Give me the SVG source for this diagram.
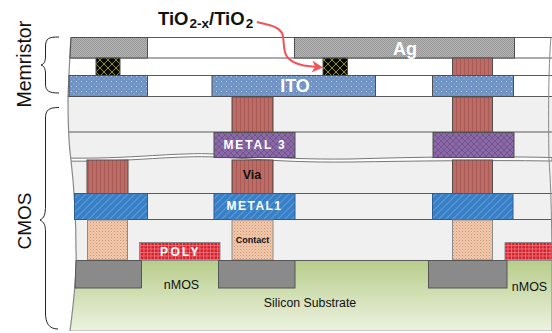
<svg xmlns="http://www.w3.org/2000/svg" width="552" height="333" viewBox="0 0 552 333">
<defs>
<linearGradient id="sub" x1="0" y1="0" x2="0" y2="1"><stop offset="0" stop-color="#b7cd8a"/><stop offset="1" stop-color="#eef3e2"/></linearGradient>
<pattern id="pAg" width="2" height="2" patternUnits="userSpaceOnUse"><rect width="2" height="2" fill="#b4b4b4"/><rect width="1" height="1" fill="#989898"/><rect x="1" y="1" width="1" height="1" fill="#989898"/></pattern>
<pattern id="pTi" width="8" height="8" patternUnits="userSpaceOnUse"><rect width="8" height="8" fill="#0b0b06"/><path d="M0 0L8 8M8 0L0 8" stroke="#8f8c3c" stroke-width="1"/></pattern>
<pattern id="pITO" width="5" height="5" patternUnits="userSpaceOnUse"><rect width="5" height="5" fill="#6e93c4"/><rect x="1" y="1" width="1" height="1" fill="#c3d4e8"/><rect x="3.500" y="3.500" width="1" height="1" fill="#a9c1de"/></pattern>
<pattern id="pVia" width="4" height="4" patternUnits="userSpaceOnUse"><rect width="4" height="4" fill="#bd6c65"/><rect width="1" height="4" fill="#a85a56"/></pattern>
<pattern id="pM3" width="6" height="6" patternUnits="userSpaceOnUse"><rect width="6" height="6" fill="#8a69a6"/><path d="M0 0L6 6M6 0L0 6" stroke="#725590" stroke-width="1"/></pattern>
<pattern id="pM1" width="7" height="7" patternUnits="userSpaceOnUse"><rect width="7" height="7" fill="#377fc7"/><path d="M-1 8L8 -1M-1 1L1 -1M6 8L8 6" stroke="#5f9ad6" stroke-width="1.200"/></pattern>
<pattern id="pCt" width="3" height="3" patternUnits="userSpaceOnUse"><rect width="3" height="3" fill="#f3c8aa"/><rect width="1" height="1" fill="#c9977a"/><rect x="1.500" y="1.500" width="1" height="1" fill="#d8a98c"/></pattern>
<pattern id="pPo" width="3.500" height="3.500" patternUnits="userSpaceOnUse"><rect width="3.500" height="3.500" fill="#d8202c"/><path d="M0 .5H3.500M.5 0V3.500" stroke="#ee7a80" stroke-width=".8"/></pattern>
<marker id="arr" markerWidth="13" markerHeight="13" refX="6" refY="6" orient="auto" markerUnits="userSpaceOnUse"><path d="M0 0L11 6L0 12L3 6Z" fill="#f0555c"/></marker>
<clipPath id="body"><path d="M71 37H552V331H70C74 300 77 270 76 250C76 220 75 195 71 160C68 140 68 110 68 96C69 75 70 50 71 37Z"/></clipPath>
</defs>
<style>
.l{stroke:#5a5a5a;stroke-width:1.200;fill:none}
.s{stroke:#4f4f4f;stroke-width:1}
.w{font-family:"Liberation Sans",Arial,sans-serif;font-weight:700;fill:#fff}
.k{font-family:"Liberation Sans",Arial,sans-serif;fill:#111}
.b{font-family:"Liberation Sans",Arial,sans-serif;font-weight:700;fill:#111}
</style>
<g id="stack-background" clip-path="url(#body)">
<rect x="60" y="37" width="500" height="60" fill="#fff"/>
<rect x="60" y="97" width="500" height="163" fill="#f0f0f0"/>
<rect x="60" y="260" width="500" height="72" fill="url(#sub)"/>
<path class="l" d="M60 37.500H552M60 58H552M60 75.500H552M60 96.500H552M60 132H552M60 193.500H552M60 219.500H552M60 260.500H552"/>
<path d="M60 158C120 159 150 155 185 154C230 152 265 160 350 159C420 157 480 156 552 157.500V161C480 160 420 161 350 162C265 163 230 155 185 157C150 158 120 162 60 161Z" fill="#fff" stroke="#777" stroke-width="1"/>
<path d="M60 331.500H552" stroke="#666" stroke-width="1.500"/>
</g>
<path d="M71 37C70 50 69 75 68 96C68 110 68 140 71 160C75 195 76 220 76 250C77 270 74 300 70 331" fill="none" stroke="#888" stroke-width="1.200"/>
<path d="M551 37C549 60 548 100 549 160C552 200 552 250 552 331" fill="none" stroke="#888" stroke-width="1"/>
<g id="ag"><path class="s" d="M71 37.500H147.500V58H70Z" fill="url(#pAg)"/><rect class="s" x="294.500" y="37.500" width="220" height="20.500" fill="url(#pAg)"/><text class="w" x="405" y="54.500" font-size="18" text-anchor="middle">Ag</text></g>
<g id="tio2"><rect class="s" x="96" y="58" width="24" height="17.500" fill="url(#pTi)"/><rect class="s" x="323" y="58" width="24.500" height="17.500" fill="url(#pTi)"/></g>
<g id="ito"><rect class="s" x="69" y="75.500" width="78.500" height="21" fill="url(#pITO)"/><rect class="s" x="212" y="75.500" width="163.500" height="21" fill="url(#pITO)"/><rect class="s" x="432.500" y="75.500" width="81" height="21" fill="url(#pITO)"/><text class="w" x="295" y="91.500" font-size="18" text-anchor="middle">ITO</text></g>
<g id="vias">
<rect class="s" x="452.500" y="58" width="40" height="17.500" fill="url(#pVia)"/>
<rect class="s" x="232" y="97" width="41" height="35" fill="url(#pVia)"/>
<rect class="s" x="452.500" y="97" width="40" height="35" fill="url(#pVia)"/>
<rect class="s" x="87" y="160" width="41" height="33.500" fill="url(#pVia)"/>
<rect class="s" x="232" y="160" width="41" height="33.500" fill="url(#pVia)"/>
<rect class="s" x="452.500" y="160" width="40" height="33.500" fill="url(#pVia)"/>
<text class="b" x="252" y="179" font-size="12.500" text-anchor="middle">Via</text>
</g>
<g id="metal3"><rect class="s" x="214" y="132.500" width="81" height="25" fill="url(#pM3)"/><rect class="s" x="433" y="132.500" width="81" height="25" fill="url(#pM3)"/><text class="w" x="255" y="149" font-size="12" letter-spacing="1.800" text-anchor="middle">METAL 3</text></g>
<g id="metal1"><rect x="74.500" y="193.500" width="73" height="26" fill="url(#pM1)" stroke="#2a5f94"/><rect x="214" y="193.500" width="81" height="26" fill="url(#pM1)" stroke="#2a5f94"/><rect x="432.500" y="193.500" width="80.500" height="26" fill="url(#pM1)" stroke="#2a5f94"/><text class="w" x="254.500" y="210" font-size="12" letter-spacing="1.500" text-anchor="middle">METAL1</text></g>
<g id="contacts"><rect x="87.500" y="220" width="40" height="40" fill="url(#pCt)" stroke="#8a8a8a"/><rect x="232" y="220" width="41" height="40" fill="url(#pCt)" stroke="#8a8a8a"/><rect x="452.500" y="220" width="40" height="40" fill="url(#pCt)" stroke="#8a8a8a"/><text class="b" x="252.500" y="242.500" font-size="9" text-anchor="middle">Contact</text></g>
<g id="poly"><rect x="139.500" y="242.500" width="80.500" height="18" fill="url(#pPo)" stroke="#8a8a8a"/><path d="M505 242.500H552V260.500H505Z" fill="url(#pPo)" stroke="#8a8a8a"/><text class="w" x="180.500" y="256" font-size="12" letter-spacing="2.300" text-anchor="middle">POLY</text></g>
<g id="diffusion"><path d="M76 260.500H141.500V288H75Z" fill="#8a8a8a" stroke="#555"/><rect x="218.500" y="260.500" width="76.500" height="27.500" fill="#8a8a8a" stroke="#555"/><rect x="428.500" y="260.500" width="78.500" height="27.500" fill="#8a8a8a" stroke="#555"/></g>
<g id="labels">
<text class="k" x="181.500" y="289" font-size="12.500" text-anchor="middle">nMOS</text>
<text class="k" x="529.500" y="291" font-size="12.500" text-anchor="middle">nMOS</text>
<text class="k" x="310" y="307" font-size="12.300" text-anchor="middle">Silicon Substrate</text>
<text class="k" font-size="19.500" transform="translate(31 107.500) rotate(-90)">Memristor</text>
<text class="k" font-size="19" transform="translate(31 249.500) rotate(-90)">CMOS</text>
<text class="b" x="158" y="25" font-size="18.500">TiO<tspan font-size="13.500" dy="3" dx="1">2-x</tspan><tspan dy="-3">/TiO</tspan><tspan font-size="13.500" dy="3" dx="1">2</tspan></text>
</g>
<g id="connectors" fill="none">
<path d="M257 22C268 25 278 26 282 33C285 40 282 52 288 58C295 65 305 66 318 67" stroke="#f0555c" stroke-width="2" marker-end="url(#arr)"/>
<path d="M59 37C49 37 45.500 38 45.500 47V56C45.500 62 44 64 41 65C44 66 45.500 68 45.500 74V84C45.500 91 49 93 59 93" stroke="#222" stroke-width="1"/>
<path d="M59 107.500C49 107.500 45.500 110 45.500 118V205C45.500 215 44 218 40 220C44 222 45.500 225 45.500 232V313C45.500 323 49 329 58 329" stroke="#222" stroke-width="1"/>
</g>
</svg>
